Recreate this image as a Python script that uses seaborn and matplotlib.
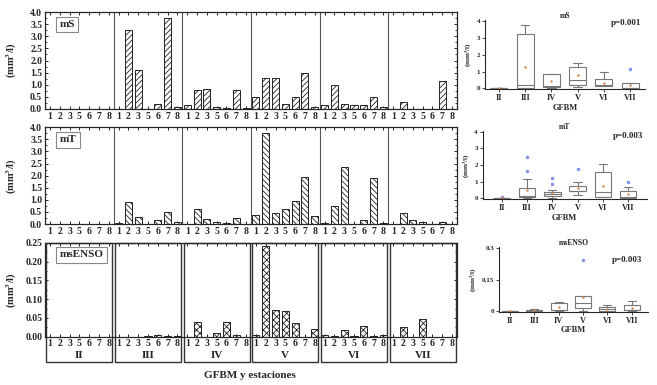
import pandas as pd
import matplotlib.pyplot as plt
import seaborn as sns
from matplotlib.patches import Rectangle
from matplotlib.ticker import AutoMinorLocator, MultipleLocator

# --- data ---
groups = ["II", "III", "IV", "V", "VI", "VII"]
stations = ["1", "2", "3", "5", "6", "7", "8"]

ms_vals = [0, 0, 0, 0, 0, 0, 0,
           0.0, 3.25, 1.6, 0.02, 0.2, 3.75, 0.08,
           0.18, 0.77, 0.82, 0.1, 0.05, 0.78, 0.05,
           0.48, 1.27, 1.27, 0.2, 0.48, 1.5, 0.08,
           0.15, 1.0, 0.22, 0.18, 0.15, 0.5, 0.1,
           0.0, 0.3, 0.02, 0.0, 0.0, 1.17, 0.0]
mt_vals = [0.0, 0.01, 0.01, 0.0, 0.0, 0.01, 0.0,
           0.03, 0.92, 0.3, 0.0, 0.15, 0.48, 0.08,
           0.0, 0.63, 0.21, 0.08, 0.06, 0.26, 0.02,
           0.37, 3.75, 0.44, 0.6, 0.95, 1.93, 0.34,
           0.03, 0.76, 2.34, 0.02, 0.15, 1.89, 0.03,
           0.0, 0.44, 0.18, 0.1, 0.0, 0.08, 0.0]
mensO_vals = [0, 0, 0, 0, 0, 0, 0,
              0, 0, 0, 0.002, 0.004, 0.001, 0.002,
              0, 0.039, 0, 0.011, 0.038, 0.004, 0,
              0.004, 0.241, 0.071, 0.068, 0.037, 0, 0.02,
              0.004, 0.001, 0.018, 0.001, 0.028, 0.002, 0.005,
              0, 0.025, 0, 0.046, 0, 0, 0]

# box plot summaries per GFBM (II..VII)
ms_box = dict(q1=[0, 0.05, 0.1, 0.22, 0.15, 0.0], med=[0, 0.2, 0.15, 0.5, 0.2, 0.02],
              q3=[0, 3.25, 0.85, 1.28, 0.55, 0.3], lo=[0, 0, 0.05, 0.1, 0.15, 0],
              hi=[0, 3.75, 0.85, 1.5, 1.0, 0.3], mean=[0, 1.25, 0.42, 0.78, 0.35, 0.2],
              fliers=[[], [], [], [], [], [1.15]])
mt_box = dict(q1=[0.02, 0.05, 0.15, 0.42, 0.08, 0.02], med=[0.03, 0.12, 0.28, 0.45, 0.35, 0.08],
              q3=[0.04, 0.6, 0.4, 0.75, 1.55, 0.42], lo=[0.02, 0.02, 0.02, 0.2, 0.05, 0.0],
              hi=[0.04, 1.15, 0.48, 1.0, 2.05, 0.7], mean=[0.03, 0.48, 0.3, 0.62, 0.72, 0.25],
              fliers=[[0.1], [1.65, 2.45], [0.88, 1.2], [1.75], [], [0.98]])
mensO_box = dict(q1=[0, 0, 0.003, 0.012, 0.002, 0.003], med=[0, 0.002, 0.004, 0.04, 0.008, 0.004],
                 q3=[0.001, 0.005, 0.04, 0.07, 0.02, 0.028], lo=[0, 0, 0, 0.001, 0, 0],
                 hi=[0.001, 0.007, 0.042, 0.07, 0.028, 0.046], mean=[0.001, 0.003, 0.018, 0.065, 0.01, 0.016],
                 fliers=[[], [], [], [0.244], [], []])

sns.set_style("ticks")
plt.rcParams["font.family"] = ["Liberation Serif", "DejaVu Serif"]
plt.rcParams["font.weight"] = "bold"
plt.rcParams["mathtext.fontset"] = "stix"
plt.rcParams["hatch.linewidth"] = 0.6

fig = plt.figure(figsize=(6.57, 3.85), dpi=100)

W = 657.0
H = 385.0


def px_axes(left, top, right, bottom):
    return fig.add_axes([left / W, 1 - bottom / H, (right - left) / W, (bottom - top) / H])


# --- bar panels ---
bar_specs = [
    ("mS", ms_vals, "//////", (12, 109), 4.0, 0.5, "%.1f"),
    ("mT", mt_vals, "\\\\\\\\\\\\", (127.3, 224), 4.0, 0.5, "%.1f"),
    ("msENSO", mensO_vals, "xxxxx", (242.7, 336.7), 0.25, 0.05, "%.2f"),
]
labels = stations * len(groups)

for i, (name, vals, hatch, (top, bot), ymax, step, fmt) in enumerate(bar_specs):
    ax = px_axes(45, top, 457, bot)
    df = pd.DataFrame({"pos": list(range(len(vals))), "val": vals})
    sns.barplot(data=df, x="pos", y="val", color="white", edgecolor="#222222",
                linewidth=0.7, width=0.72, saturation=1, ax=ax)
    for p in ax.patches:
        p.set_hatch(hatch)
    ax.set_xlim(-0.5, len(vals) - 0.5)
    ax.set_ylim(0, ymax)
    ax.yaxis.set_major_locator(MultipleLocator(step))
    ax.yaxis.set_minor_locator(AutoMinorLocator(2))
    ax.yaxis.set_major_formatter(plt.FormatStrFormatter(fmt))
    ax.set_xticks(range(len(vals)))
    ax.set_xticklabels(labels)
    ax.tick_params(axis="both", direction="in", top=True, right=True, labelsize=7,
                   length=2.5, width=0.7, pad=2)
    ax.tick_params(which="minor", direction="in", right=True, length=1.5)
    for s in ax.spines.values():
        s.set_linewidth(0.9)
    ax.set_xlabel("")
    ax.set_ylabel("(mm$^{\\mathbf{3}}$/l)", fontsize=7.5, fontweight="bold")
    ax.yaxis.set_label_coords(-0.062, 0.5)
    ax.text(0.035, 0.87, name, transform=ax.transAxes, fontsize=8, fontweight="bold",
            va="center", ha="left",
            bbox=dict(boxstyle="square,pad=0.3", fc="white", ec="#888888", lw=0.8))
    if i < 2:
        for g in range(1, len(groups)):
            ax.axvline(g * 7 - 0.5, color="#555555", lw=0.8)
    else:
        trans = ax.get_xaxis_transform()
        for g, gname in enumerate(groups):
            ax.add_patch(Rectangle((g * 7 - 0.5 + 0.12, -0.27), 7 - 0.24, 1.27,
                                   transform=trans, fill=False, ec="#333333", lw=1.0,
                                   clip_on=False))
            ax.text(g * 7 + 3, -0.2, gname, transform=trans, ha="center", va="center",
                    fontsize=8, fontweight="bold")

fig.text(250 / W, 1 - 375 / H, "GFBM y estaciones", ha="center", va="center",
         fontsize=8, fontweight="bold")

# --- box plot panels ---
box_specs = [
    ("mS", ms_box, "p=0.001", (485, 20, 645, 89.3), (-0.53, 5.57), (-0.05, 4.05),
     [0, 1, 2, 3, 4], ["0", "1", "2", "3", "4"], (0.88, 0.957)),
    ("mT", mt_box, "p=0.003", (482.7, 131, 646.7, 199.3), (-0.75, 5.73), (-0.06, 4.04),
     [0, 1, 2, 3, 4], ["0", "1", "2", "3", "4"], (0.886, 0.927)),
    ("msENSO", mensO_box, "p=0.003", (499.3, 246.7, 648, 312), (-0.44, 5.67), (-0.005, 0.308),
     [0, 0.15, 0.3], ["0", "0.15", "0.3"], (0.86, 0.8)),
]

for name, b, ptxt, (l, t, r, bt), xl, yl, yt, ytl, ppos in box_specs:
    ax = px_axes(l, t, r, bt)
    stats = []
    for k in range(len(groups)):
        stats.append(dict(q1=b["q1"][k], med=b["med"][k], q3=b["q3"][k],
                          whislo=b["lo"][k], whishi=b["hi"][k], mean=b["mean"][k],
                          fliers=b["fliers"][k]))
    ax.bxp(stats, positions=list(range(len(groups))), widths=0.65, showmeans=True,
           patch_artist=True,
           boxprops=dict(facecolor="white", edgecolor="#777777", lw=0.8),
           medianprops=dict(color="#777777", lw=0.8),
           whiskerprops=dict(color="#777777", lw=0.8),
           capprops=dict(color="#777777", lw=0.8),
           meanprops=dict(marker=".", markersize=1.5, markerfacecolor="#e08040",
                          markeredgecolor="#e08040"),
           flierprops=dict(marker="*", markersize=2.2, markerfacecolor="#8899ee",
                           markeredgecolor="#8899ee"))
    ax.set_xlim(*xl)
    ax.set_ylim(*yl)
    ax.set_yticks(yt)
    ax.set_yticklabels(ytl)
    ax.set_xticks(range(len(groups)))
    ax.set_xticklabels(groups)
    sns.despine(ax=ax)
    ax.tick_params(axis="y", labelsize=5, length=2, width=0.6, pad=1.5)
    ax.tick_params(axis="x", labelsize=6, length=2, width=0.6, pad=1.5)
    for s in ax.spines.values():
        s.set_linewidth(0.8)
    ax.set_xlabel("GFBM", fontsize=6, fontweight="bold", labelpad=1)
    ax.set_ylabel("(mm$^{3}$/l)", fontsize=5, fontweight="bold", labelpad=2)
    ax.set_title(name, fontsize=5.5, fontweight="bold", pad=1)
    ax.text(ppos[0], ppos[1], ptxt, transform=ax.transAxes, ha="center", va="center",
            fontsize=6.5, fontweight="bold")

plt.savefig("out.png", dpi=100)
